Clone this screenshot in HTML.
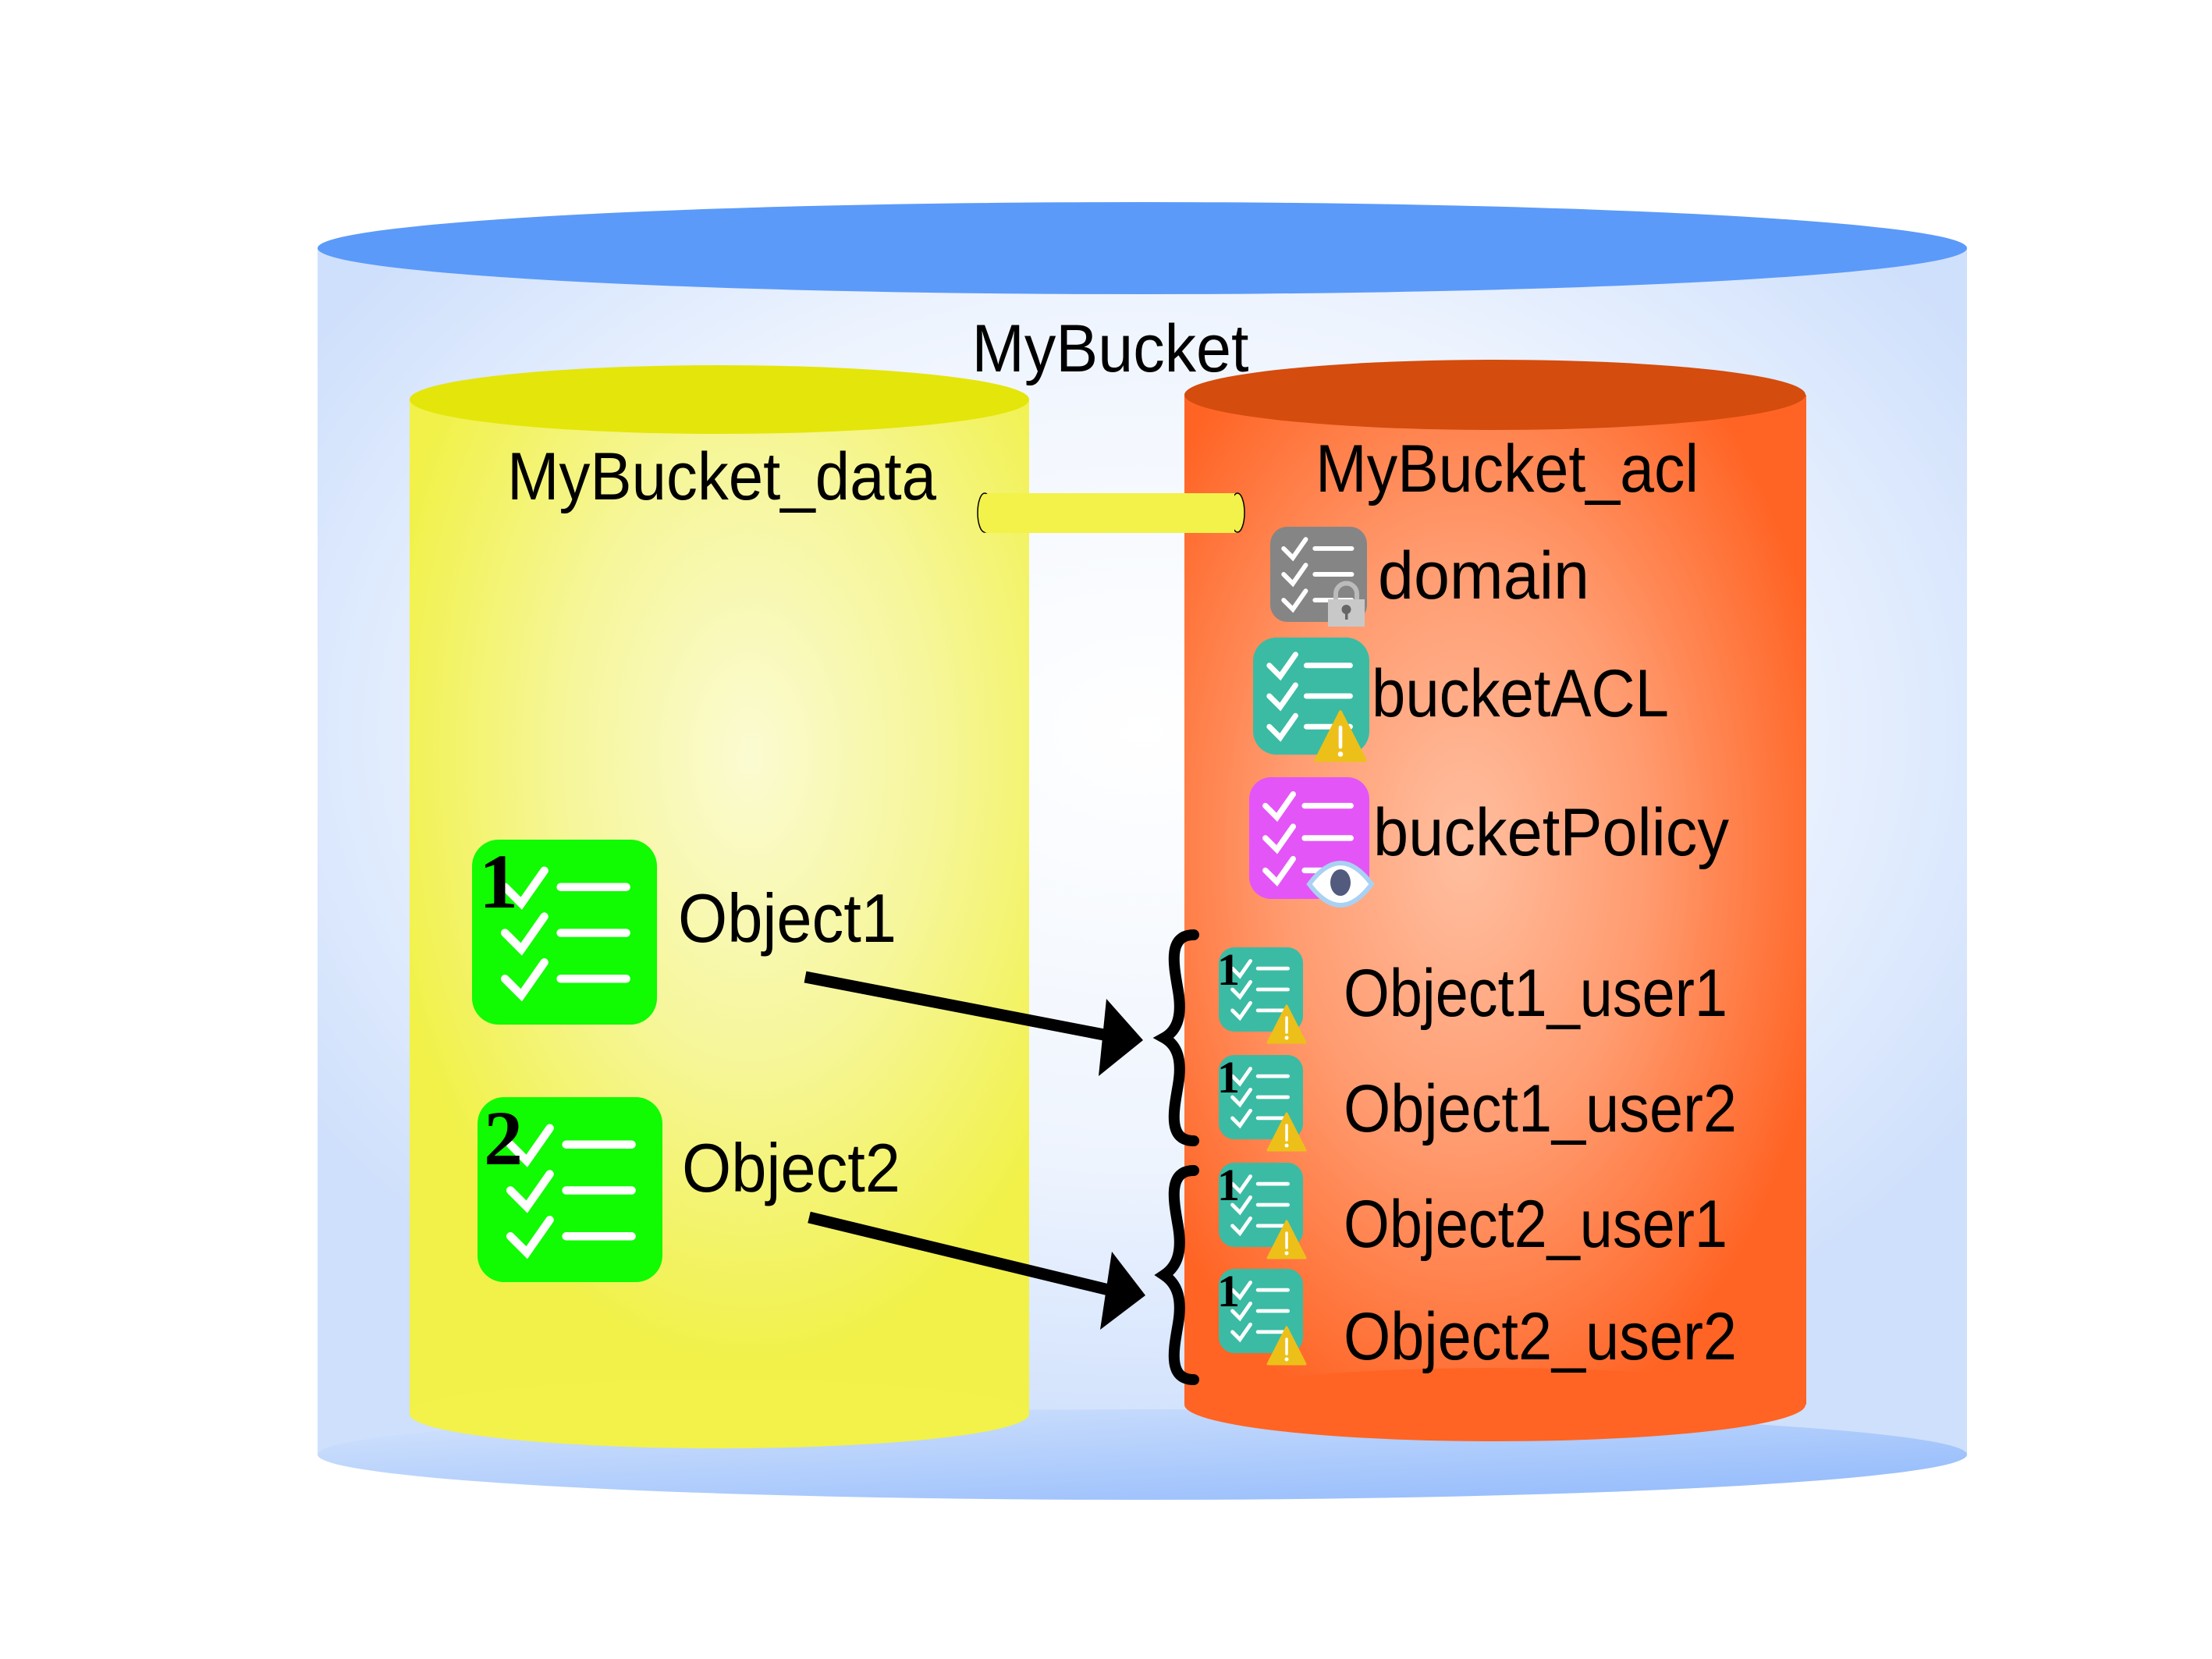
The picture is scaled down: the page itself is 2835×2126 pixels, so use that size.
<!DOCTYPE html>
<html><head><meta charset="utf-8"><style>html,body{margin:0;padding:0;background:#fff}svg{display:block}symbol{overflow:visible}</style></head>
<body>
<svg width="2835" height="2126" viewBox="0 0 2835 2126" xmlns="http://www.w3.org/2000/svg" font-family="'Liberation Sans', sans-serif">
<defs>
<radialGradient id="gBlue" cx="0.5" cy="0.4" r="0.6">
<stop offset="0" stop-color="#ffffff"/><stop offset="0.6" stop-color="#eef4fe"/><stop offset="1" stop-color="#cfe0fc"/></radialGradient>
<linearGradient id="gBlueBot" x1="0" y1="0" x2="1" y2="1">
<stop offset="0" stop-color="#d6e5fd"/><stop offset="1" stop-color="#8fb8fb"/></linearGradient>
<radialGradient id="gYel" cx="0.55" cy="0.35" r="0.6">
<stop offset="0" stop-color="#fbfbd2"/><stop offset="0.5" stop-color="#f6f69a"/><stop offset="1" stop-color="#f1f14a"/></radialGradient>
<radialGradient id="gOr" cx="0.45" cy="0.45" r="0.6">
<stop offset="0" stop-color="#ffbfa0"/><stop offset="0.5" stop-color="#ff9a6e"/><stop offset="1" stop-color="#ff6424"/></radialGradient>
<symbol id="chk" viewBox="0 0 100 100" overflow="visible">
<g stroke="#fff" stroke-width="5" stroke-linecap="round" fill="none">
<polyline points="12,22 22,32 36,12"/><polyline points="12,50 22,60 36,40"/><polyline points="12,78 22,88 36,68"/>
<line x1="46" y1="22" x2="86" y2="22"/><line x1="46" y1="50" x2="86" y2="50"/><line x1="46" y1="78" x2="86" y2="78"/>
</g></symbol>
<symbol id="warn" viewBox="0 0 100 100" overflow="visible">
<polygon points="50,2 98,96 2,96" fill="#ecc019" stroke="#ecc019" stroke-width="6" stroke-linejoin="round"/>
<line x1="50" y1="32" x2="50" y2="70" stroke="#fff" stroke-width="7" stroke-linecap="round"/>
<circle cx="50" cy="84" r="5" fill="#fff"/></symbol>
<symbol id="small" viewBox="0 0 120 120" overflow="visible">
<rect x="2" y="0" width="108" height="108" rx="20" fill="#3bbba4"/>
<use href="#chk" x="8" y="6" width="96" height="96"/>
<use href="#warn" x="60" y="74" width="58" height="50"/>
<text x="0" y="48" font-family="'Liberation Serif', serif" font-weight="bold" font-size="58" fill="#000">1</text>
</symbol>
</defs>

<!-- outer cylinder -->
<rect x="407" y="318" width="2114" height="1546" fill="url(#gBlue)"/>
<ellipse cx="1464" cy="1864" rx="1057" ry="58" fill="url(#gBlueBot)"/>
<ellipse cx="1464" cy="318" rx="1057" ry="59" fill="#5b9af9"/>
<text x="1423" y="476" font-size="86" text-anchor="middle" textLength="355" lengthAdjust="spacingAndGlyphs">MyBucket</text>

<!-- yellow cylinder -->
<rect x="525" y="512" width="794" height="1300" fill="url(#gYel)"/>
<ellipse cx="922" cy="1812" rx="397" ry="44" fill="#f2f24a"/>
<ellipse cx="922" cy="512" rx="397" ry="44" fill="#e4e50a"/>
<text x="650" y="640" font-size="86" textLength="550" lengthAdjust="spacingAndGlyphs">MyBucket_data</text>

<!-- orange cylinder -->
<rect x="1518" y="506" width="797" height="1294" fill="url(#gOr)"/>
<ellipse cx="1916" cy="1800" rx="398" ry="47" fill="#ff6424"/>
<ellipse cx="1916" cy="506" rx="398" ry="45" fill="#d44c0e"/>
<text x="1686" y="630" font-size="86" textLength="491" lengthAdjust="spacingAndGlyphs">MyBucket_acl</text>

<!-- connector tube -->
<rect x="1262" y="632" width="324" height="51" fill="#f2f24a"/>
<ellipse cx="1262" cy="657" rx="9" ry="25" fill="#f2f24a" stroke="#000" stroke-width="1.5"/>
<ellipse cx="1586" cy="657" rx="9" ry="25" fill="#f2f24a" stroke="#000" stroke-width="1.5"/>
<rect x="1262" y="633" width="320" height="49" fill="#f2f24a"/>

<!-- domain -->
<rect x="1628" y="675" width="124" height="122" rx="22" fill="#858585"/>
<use href="#chk" x="1630" y="677" width="120" height="118"/>
<g transform="translate(1702,744)">
<path d="M10 26 V17 a13.5 13.5 0 0 1 27 0 V26" fill="none" stroke="#bbb" stroke-width="6"/>
<rect x="0" y="24" width="47" height="35" fill="#c8c8c8"/>
<circle cx="23.5" cy="37" r="6" fill="#666"/><rect x="22" y="39" width="3.5" height="11" fill="#666"/>
</g>
<text x="1766" y="767" font-size="86" textLength="271" lengthAdjust="spacingAndGlyphs">domain</text>

<!-- bucketACL -->
<rect x="1606" y="817" width="149" height="150" rx="30" fill="#3bbba4"/>
<use href="#chk" x="1610" y="822" width="140" height="140"/>
<use href="#warn" x="1680" y="911" width="76" height="66"/>
<text x="1758" y="918" font-size="86" textLength="381" lengthAdjust="spacingAndGlyphs">bucketACL</text>

<!-- bucketPolicy -->
<rect x="1601" y="996" width="154" height="156" rx="28" fill="#e455f7"/>
<use href="#chk" x="1604" y="1000" width="148" height="148"/>
<g transform="translate(1718,1133)">
<path d="M-40 0 Q0 -54 40 0 Q0 54 -40 0 Z" fill="#fff" stroke="#a9d1f3" stroke-width="6"/>
<ellipse cx="0" cy="-2" rx="13" ry="17" fill="#525b7d"/>
</g>
<text x="1760" y="1096" font-size="86" textLength="456" lengthAdjust="spacingAndGlyphs">bucketPolicy</text>

<!-- Object1 / Object2 -->
<rect x="605" y="1076" width="237" height="237" rx="34" fill="#11fb02"/>
<use href="#chk" x="622" y="1088" width="210" height="215"/>
<text x="614" y="1163" font-family="'Liberation Serif', serif" font-weight="bold" font-size="100">1</text>
<text x="869" y="1207" font-size="88" textLength="280" lengthAdjust="spacingAndGlyphs">Object1</text>

<rect x="612" y="1406" width="237" height="237" rx="34" fill="#11fb02"/>
<use href="#chk" x="629" y="1418" width="210" height="215"/>
<text x="620" y="1492" font-family="'Liberation Serif', serif" font-weight="bold" font-size="100">2</text>
<text x="874" y="1527" font-size="88" textLength="280" lengthAdjust="spacingAndGlyphs">Object2</text>

<!-- arrows -->
<line x1="1032" y1="1252" x2="1420" y2="1327" stroke="#000" stroke-width="15"/>
<polygon points="1408,1379 1465,1333 1418,1280" fill="#000"/>
<line x1="1037" y1="1560" x2="1425" y2="1654" stroke="#000" stroke-width="15"/>
<polygon points="1410,1704 1468,1660 1425,1604" fill="#000"/>

<!-- braces -->
<g fill="none" stroke="#000" stroke-width="14" stroke-linecap="round">
<path d="M1530 1198 C1495 1198 1505 1240 1510 1270 C1515 1300 1510 1320 1492 1330 C1510 1340 1515 1360 1510 1390 C1505 1420 1495 1462 1530 1462"/>
<path d="M1530 1500 C1495 1500 1505 1542 1510 1572 C1515 1602 1510 1622 1492 1634 C1510 1646 1515 1666 1510 1696 C1505 1726 1495 1768 1530 1768"/>
</g>

<!-- small icons -->
<use href="#small" x="1560" y="1214" width="120" height="120"/>
<use href="#small" x="1560" y="1352" width="120" height="120"/>
<use href="#small" x="1560" y="1490" width="120" height="120"/>
<use href="#small" x="1560" y="1626" width="120" height="120"/>
<text x="1722" y="1302" font-size="86" textLength="492" lengthAdjust="spacingAndGlyphs">Object1_user1</text>
<text x="1722" y="1450" font-size="86" textLength="504" lengthAdjust="spacingAndGlyphs">Object1_user2</text>
<text x="1722" y="1598" font-size="86" textLength="492" lengthAdjust="spacingAndGlyphs">Object2_user1</text>
<text x="1722" y="1742" font-size="86" textLength="504" lengthAdjust="spacingAndGlyphs">Object2_user2</text>
</svg>
</body></html>
